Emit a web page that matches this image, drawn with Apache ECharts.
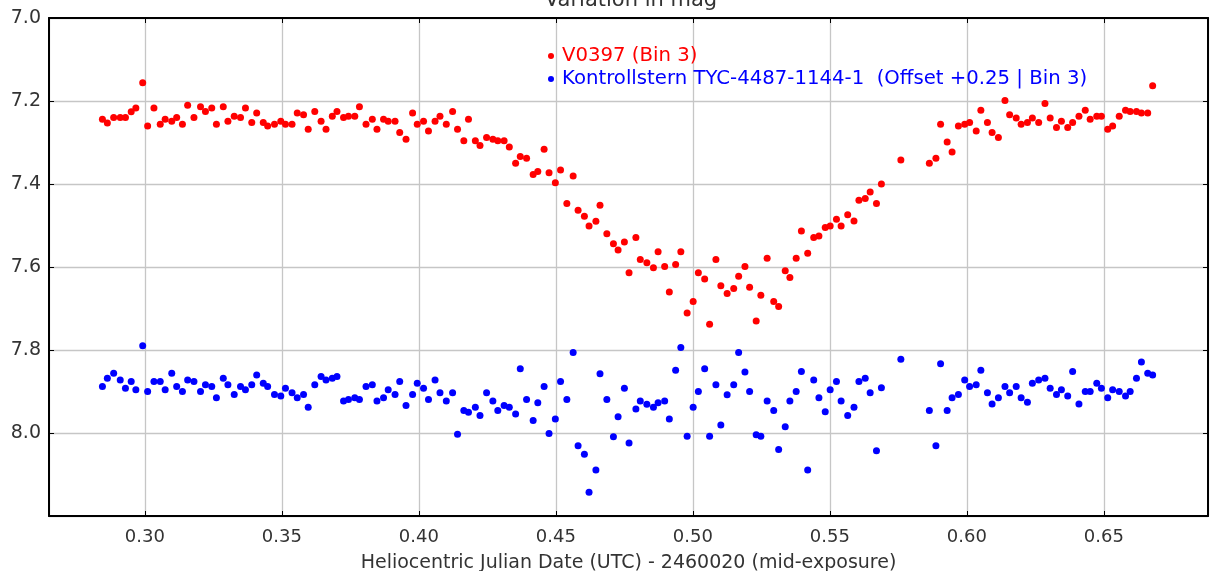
<!DOCTYPE html>
<html>
<head>
<meta charset="utf-8">
<script src="https://cdn.jsdelivr.net/npm/echarts@6/dist/echarts.min.js"></script>
<style>
html,body{margin:0;padding:0;background:#fff;}
#chart{width:1210px;height:571px;}
</style>
</head>
<body>
<div id="chart"></div>
<script>
// HJD - 2460020
var hjd = [
 0.2845,0.2863,0.2886,0.2910,0.2929,0.2950,0.2967,0.2992,0.3010,0.3033,
 0.3056,0.3074,0.3098,0.3116,0.3137,0.3156,0.3179,0.3203,0.3221,0.3244,
 0.3261,0.3286,0.3303,0.3326,0.3349,0.3367,0.3390,0.3408,0.3432,0.3448,
 0.3473,0.3496,0.3513,0.3537,0.3556,0.3579,0.3596,0.3620,0.3643,0.3661,
 0.3684,0.3701,0.3725,0.3743,0.3766,0.3783,0.3807,0.3830,0.3847,0.3871,
 0.3888,0.3913,0.3930,0.3953,0.3977,0.3994,0.4017,0.4035,0.4059,0.4077,
 0.4100,0.4123,0.4141,0.4164,0.4181,0.4206,0.4223,0.4247,0.4270,0.4288,
 0.4311,0.4330,0.4353,0.4370,0.4393,0.4417,0.4434,0.4457,0.4475,0.4498,
 0.4517,0.4540,0.4563,0.4581,0.4604,0.4621,0.4646,0.4661,0.4686,0.4710,
 0.4727,0.4750,0.4767,0.4792,0.4808,0.4832,0.4856,0.4873,0.4897,0.4914,
 0.4937,0.4956,0.4979,0.5001,0.5020,0.5043,0.5061,0.5084,0.5102,0.5125,
 0.5149,0.5167,0.5190,0.5207,0.5231,0.5248,0.5271,0.5295,0.5313,0.5337,
 0.5354,0.5377,0.5396,0.5419,0.5441,0.5460,0.5483,0.5501,0.5524,0.5541,
 0.5565,0.5588,0.5606,0.5629,0.5647,0.5670,0.5688,0.5759,0.5863,0.5887,
 0.5904,0.5928,0.5946,0.5969,0.5992,0.6010,0.6034,0.6051,0.6075,0.6092,
 0.6115,0.6139,0.6156,0.6180,0.6198,0.6221,0.6239,0.6262,0.6285,0.6304,
 0.6327,0.6345,0.6368,0.6386,0.6409,0.6432,0.6450,0.6474,0.6491,0.6514,
 0.6532,0.6556,0.6579,0.6596,0.6619,0.6637,0.6660,0.6678
];

// V0397 (Bin 3)
var v0397Mag = [
 7.244,7.253,7.240,7.240,7.240,7.226,7.217,7.156,7.260,7.217,
 7.256,7.244,7.249,7.240,7.256,7.210,7.240,7.214,7.225,7.217,
 7.256,7.214,7.249,7.237,7.240,7.217,7.252,7.229,7.252,7.260,
 7.256,7.249,7.256,7.256,7.229,7.233,7.268,7.225,7.249,7.268,
 7.237,7.225,7.240,7.237,7.237,7.214,7.256,7.244,7.268,7.244,
 7.249,7.249,7.276,7.292,7.229,7.256,7.249,7.272,7.249,7.237,
 7.256,7.225,7.268,7.296,7.244,7.296,7.307,7.288,7.292,7.296,
 7.296,7.311,7.350,7.334,7.338,7.377,7.370,7.316,7.373,7.397,
 7.366,7.447,7.381,7.463,7.478,7.501,7.490,7.451,7.520,7.544,
 7.559,7.540,7.614,7.529,7.582,7.590,7.602,7.563,7.599,7.660,
 7.594,7.563,7.711,7.683,7.614,7.629,7.738,7.582,7.645,7.664,
 7.652,7.622,7.599,7.649,7.730,7.668,7.579,7.683,7.695,7.609,
 7.625,7.579,7.513,7.567,7.529,7.525,7.505,7.501,7.485,7.501,
 7.474,7.489,7.439,7.435,7.419,7.447,7.400,7.342,7.350,7.338,
 7.256,7.299,7.323,7.260,7.256,7.252,7.272,7.222,7.252,7.276,
 7.288,7.199,7.233,7.241,7.256,7.252,7.241,7.252,7.206,7.241,
 7.264,7.249,7.264,7.252,7.237,7.222,7.244,7.237,7.237,7.268,
 7.260,7.237,7.222,7.225,7.225,7.229,7.229,7.163
];

// Kontrollstern, already offset +0.25
var checkMag = [
 7.888,7.868,7.856,7.872,7.892,7.876,7.896,7.790,7.900,7.876,
 7.876,7.896,7.856,7.888,7.900,7.872,7.876,7.900,7.884,7.888,
 7.915,7.868,7.884,7.907,7.888,7.896,7.884,7.860,7.880,7.888,
 7.907,7.911,7.892,7.903,7.915,7.907,7.938,7.884,7.864,7.872,
 7.868,7.864,7.923,7.919,7.915,7.919,7.888,7.884,7.923,7.915,
 7.896,7.907,7.876,7.934,7.907,7.880,7.892,7.919,7.872,7.903,
 7.923,7.903,8.003,7.946,7.950,7.938,7.958,7.903,7.923,7.946,
 7.934,7.938,7.954,7.845,7.919,7.970,7.927,7.888,8.001,7.966,
 7.876,7.919,7.806,8.031,8.051,8.143,8.089,7.857,7.919,8.009,
 7.961,7.892,8.024,7.942,7.923,7.931,7.938,7.927,7.923,7.966,
 7.849,7.794,8.008,7.938,7.900,7.845,8.008,7.884,7.981,7.908,
 7.884,7.806,7.853,7.900,8.004,8.008,7.923,7.946,8.040,7.985,
 7.923,7.900,7.852,8.089,7.872,7.915,7.949,7.896,7.876,7.923,
 7.958,7.938,7.876,7.868,7.903,8.043,7.891,7.822,7.946,8.031,
 7.833,7.946,7.915,7.907,7.872,7.888,7.884,7.849,7.903,7.930,
 7.915,7.888,7.903,7.888,7.915,7.926,7.880,7.872,7.868,7.892,
 7.907,7.896,7.911,7.852,7.930,7.900,7.900,7.880,7.892,7.915,
 7.896,7.900,7.911,7.900,7.868,7.829,7.856,7.860
];

var seriesNames = ['V0397 (Bin 3)', 'Kontrollstern TYC-4487-1144-1  (Offset +0.25 | Bin 3)'];
var seriesColors = ['#ff0000', '#0000ff'];

function pairs(xs, ys){
  var out = [];
  for (var i = 0; i < xs.length; i++) {
    out.push([xs[i], ys[i]]);
  }
  return out;
}

var font = 'DejaVu Sans';
var gridColor = '#c6c6c6';

var chart = echarts.init(document.getElementById('chart'));
var option = {
  backgroundColor: '#fff',
  animation: false,
  title: {
    text: 'Variation in mag',
    left: 626, top: -15, textAlign: 'center',
    textStyle: {fontFamily: font, fontSize: 21, fontWeight: 'normal', color: '#333'}
  },
  legend: {
    orient: 'vertical',
    left: 543, top: 41,
    itemWidth: 6, itemHeight: 6, itemGap: 3,
    icon: 'circle',
    textStyle: {fontFamily: font, fontSize: 19.7, padding: [0, 0, 0, 3]},
    data: [
      {name: seriesNames[0], textStyle: {color: seriesColors[0]}},
      {name: seriesNames[1], textStyle: {color: seriesColors[1]}}
    ]
  },
  grid: {left: 49, right: 2, top: 18, bottom: 55, outerBoundsMode: 'none'},
  xAxis: [{
    type: 'value', min: 0.265, max: 0.688, splitNumber: 8,
    name: 'Heliocentric Julian Date (UTC) - 2460020 (mid-exposure)',
    nameLocation: 'middle', nameGap: 38,
    nameTextStyle: {fontFamily: font, fontSize: 19, color: '#333'},
    axisLine: {lineStyle: {color: '#000', width: 2}},
    axisTick: {inside: true, length: 5, lineStyle: {color: '#000'}},
    axisLabel: {fontFamily: font, fontSize: 18, color: '#333', margin: 12,
      showMinLabel: false, showMaxLabel: false,
      formatter: function(v){ return v.toFixed(2); }},
    splitLine: {show: true, lineStyle: {color: gridColor, width: 1.3}}
  }, {
    type: 'value', position: 'top', min: 0.265, max: 0.688, splitNumber: 8,
    axisLine: {show: true, lineStyle: {color: '#000', width: 2}},
    axisTick: {inside: true, length: 5, lineStyle: {color: '#000'}},
    axisLabel: {show: false},
    splitLine: {show: false}
  }],
  yAxis: [{
    type: 'value', inverse: true, min: 7.0, max: 8.2, interval: 0.2,
    axisLine: {show: true, lineStyle: {color: '#000', width: 2}},
    axisTick: {show: true, inside: true, length: 5, lineStyle: {color: '#000'}},
    axisLabel: {fontFamily: font, fontSize: 19, color: '#333', margin: 8,
      showMaxLabel: false,
      formatter: function(v){ return v.toFixed(1); }},
    splitLine: {show: true, lineStyle: {color: gridColor, width: 1.3}}
  }, {
    type: 'value', position: 'right', inverse: true, min: 7.0, max: 8.2, interval: 0.2,
    axisLine: {show: true, lineStyle: {color: '#000', width: 2}},
    axisTick: {show: true, inside: true, length: 5, lineStyle: {color: '#000'}},
    axisLabel: {show: false},
    splitLine: {show: false}
  }],
  series: [{
    name: seriesNames[0], type: 'scatter',
    symbol: 'circle', symbolSize: 7,
    itemStyle: {color: seriesColors[0], opacity: 1},
    data: pairs(hjd, v0397Mag)
  }, {
    name: seriesNames[1], type: 'scatter',
    symbol: 'circle', symbolSize: 7,
    itemStyle: {color: seriesColors[1], opacity: 1},
    data: pairs(hjd, checkMag)
  }]
};
chart.setOption(option);
</script>
</body>
</html>
